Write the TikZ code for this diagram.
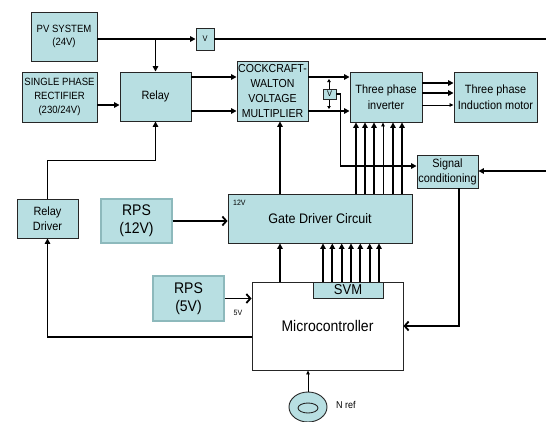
\documentclass[tikz,border=0pt]{standalone}
\usepackage{fontspec}
\setmainfont[FakeStretch=0.91]{Liberation Sans}
\usepackage{tikz}
\usetikzlibrary{
  arrows.meta,
  shapes.geometric,
  positioning,
  calc
}
\definecolor{cbFill}{HTML}{B8DFE2}
\definecolor{cbEdge}{HTML}{262626}
\definecolor{cbRPS}{HTML}{8DB9BC}
\tikzset{
  blk/.style={
    draw=cbEdge, fill=cbFill, line width=0.9pt, inner sep=0pt,
    align=center, font=\fontsize{12}{15}\selectfont
  },
  rps/.style={blk, draw=cbRPS, line width=1.4pt, font=\fontsize{15.4}{18}\selectfont},
  mcubox/.style={blk, fill=white},
  tiny/.style={inner sep=0pt, font=\fontsize{7.7}{8}\selectfont},
  wire/.style={-{Triangle[length=5.5pt,width=5.5pt]}, line width=1.8pt},
  wirethin/.style={-{Triangle[length=4pt,width=3.5pt]}, line width=0.8pt},
  barb/.style={-{Straight Barb[length=4pt,width=9pt]}, line width=1.8pt},
  busline/.style={line width=2.2pt}
}

\begin{document}
\begin{tikzpicture}[x=1pt,y=-1pt]
  \useasboundingbox (0,0) rectangle (546,421);
  \coordinate (ya) at (0,77);
  \coordinate (yb) at (0,111);
  \coordinate (yr) at (0,105);
  \coordinate (cx) at (280,0);
  \coordinate (vx) at (329,0);
  \coordinate (pvend) at (546,39);
  \coordinate (sigsrc) at (546,171);

  \node[blk, minimum width=66pt, minimum height=49pt, font=\fontsize{10.5}{13}\selectfont] (pv) at (64,36.5) {PV SYSTEM\\(24V)};
  \node[blk, minimum width=75pt, minimum height=50pt, font=\fontsize{10.5}{14}\selectfont] (rect) at (59.5,97) {SINGLE PHASE\\RECTIFIER\\(230/24V)};
  \node[blk, minimum width=71pt, minimum height=49pt] (relay) at (155.5,96.5) {Relay};
  \node[blk, minimum width=18pt, minimum height=22pt, font=\fontsize{8.2}{9}\selectfont] (vtop) at (205,39) {V};
  \node[blk, minimum width=71pt, minimum height=60pt, font=\fontsize{11.6}{15}\selectfont] (cw) at (272.5,91) {COCKCRAFT-\\WALTON\\VOLTAGE\\MULTIPLIER};
  \node[blk, minimum width=72pt, minimum height=50pt, font=\fontsize{12}{15.5}\selectfont] (inv) at (386,97) {Three phase\\inverter};
  \node[blk, minimum width=83pt, minimum height=50pt, font=\fontsize{12}{15.5}\selectfont] (motor) at (495.5,97) {Three phase\\Induction motor};
  \node[blk, minimum width=61pt, minimum height=33pt] (sig) at (447.5,171.5) {Signal\\conditioning};
  \node[blk, minimum width=184pt, minimum height=49pt, font=\fontsize{13.8}{15}\selectfont] (gate) at (320,218.5) {Gate Driver Circuit};
  \node[tiny, anchor=west] (lbl12) at (233,203) {12V};
  \node[rps, minimum width=71pt, minimum height=44pt] (rps12) at (136.5,221) {RPS\\(12V)};
  \node[blk, minimum width=61pt, minimum height=39pt] (rdrv) at (47.5,218.5) {Relay\\Driver};
  \node[mcubox, minimum width=151pt, minimum height=88pt, font=\fontsize{15.4}{16}\selectfont] (mcu) at (327.5,326) {Microcontroller};
  \node[blk, minimum width=70pt, minimum height=16pt, font=\fontsize{14.3}{14}\selectfont] (svm) at (348,290) {SVM};
  \node[rps, minimum width=71pt, minimum height=45pt] (rps5) at (188.5,298.5) {RPS\\(5V)};
  \node[tiny] (lbl5) at (238,313) {5V};
  \node[blk, ellipse, minimum width=38pt, minimum height=30pt] (nref) at (308,407) {};
  \node[draw=cbEdge, ellipse, line width=0.9pt, minimum width=20pt, minimum height=10pt, inner sep=0pt] (nrefin) at (308,408) {};
  \node[tiny, anchor=west, font=\fontsize{9.9}{10}\selectfont] (lblnref) at (336,405) {N ref};

  \draw[wire, busline] (pv.east |- vtop.west) -- (vtop.west);
  \draw[busline] (vtop.east) -- (pvend);
  \draw[wire] (relay.north |- vtop.west) -- (relay.north);
  \draw[wire] (rect.east |- yr) -- (relay.west |- yr);
  \draw[wire] (relay.east |- ya) -- (cw.west |- ya);
  \draw[wire] (relay.east |- yb) -- (cw.west |- yb);
  \draw[wire] (cw.east |- ya) -- (inv.west |- ya);
  \draw[wire] (cw.east |- yb) -- (inv.west |- yb);
  \draw[{Triangle[length=3pt,width=3.5pt]}-{Triangle[length=3pt,width=3.5pt]}, line width=0.8pt, shorten <=2pt, shorten >=2pt] (vx |- ya) -- (vx |- yb);
  \node[blk, minimum width=13pt, minimum height=10pt, font=\fontsize{8.2}{8}\selectfont] (vmid) at (329.5,94) {V};
  \draw[wire] (vmid.east) -- ++(4,0) |- ($(sig.west)+(0,-5.5)$);
  \draw[wire] (sigsrc) -- (sig.east |- sigsrc);
  \draw[barb] ($(sig.south)+(11.5,0)$) |- (mcu.east);
  \foreach \dy/\st in {-14/wire, -4/wire, 8/wirethin} {
    \draw[\st] ($(inv.east)+(0,\dy)$) -- ($(motor.west)+(0,\dy)$);
  }
  \foreach \dx/\st in {-30/wire, -21/wire, -12/wire, -3/wirethin, 7/wire, 16/wire} {
    \path ($(inv.south)+(\dx,0)$) coordinate (t);
    \draw[\st] (t |- gate.north) -- (t);
  }
  \foreach \dx in {-25, -15.7, -6.3, 3, 12.3, 21.7, 31} {
    \path ($(svm.north)+(\dx,0)$) coordinate (t);
    \draw[wire] (t) -- (t |- gate.south);
  }
  \draw[wire] (cx |- gate.north) -- (cx |- cw.south);
  \draw[wire] (cx |- mcu.north) -- (cx |- gate.south);
  \draw[barb] (rps12.east) -- (gate.west |- rps12.east);
  \draw[barb] (rps5.east) -- (mcu.west |- rps5.east);
  \draw[wire] (rdrv.north) -- ++(0,-38) -| (relay.south);
  \draw[wire] ($(mcu.west)+(0,11)$) -| (rdrv.south);
  \draw[wirethin] (nref.north) -- (mcu.south -| nref.north);
\end{tikzpicture}
\end{document}
